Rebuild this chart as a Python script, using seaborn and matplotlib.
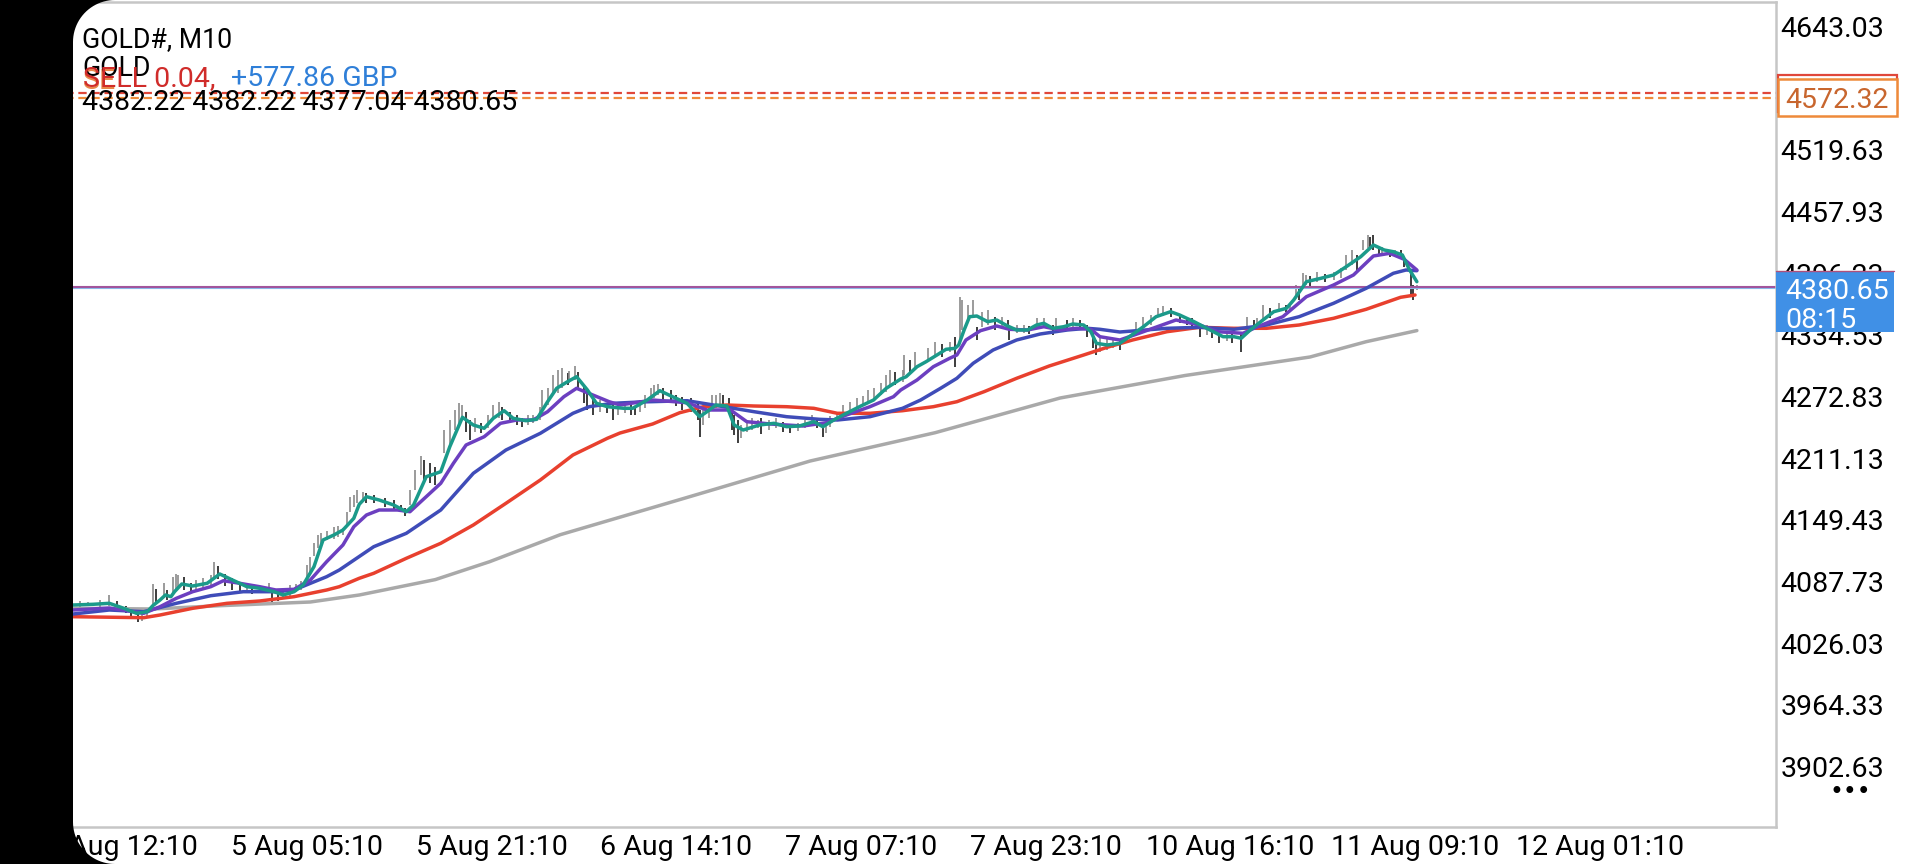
import numpy as np
import matplotlib
matplotlib.use("Agg")
import matplotlib.pyplot as plt
import seaborn as sns
from matplotlib.patches import Rectangle, Polygon
from matplotlib.transforms import Affine2D, blended_transform_factory, ScaledTranslation

# ---------------- data (bar index: 0 = "4 Aug 12:10", 102 bars per label step) -------------
tick_idx = [0, 102, 204, 306, 408, 510, 612, 714, 816]
tick_labels = ["4 Aug 12:10", "5 Aug 05:10", "5 Aug 21:10", "6 Aug 14:10", "7 Aug 07:10",
               "7 Aug 23:10", "10 Aug 16:10", "11 Aug 09:10", "12 Aug 01:10"]
price_ticks = [3902.63, 3964.33, 4026.03, 4087.73, 4149.43, 4211.13, 4272.83,
               4334.53, 4396.23, 4457.93, 4519.63, 4643.03]

teal_idx = [-27, -16, -7, 1, 8, 14, 17, 21, 24, 27, 29, 33, 39, 47, 54, 61, 69, 76, 84, 89, 95, 100,
            106, 111, 117, 122, 128, 131, 135, 142, 150, 157, 161, 168, 176, 181, 188, 194, 200, 205,
            211, 216, 223, 229, 235, 240, 246, 251, 257, 262, 268, 277, 282, 290, 297, 304, 312, 319,
            323, 328, 334, 338, 343, 352, 360, 367, 374, 382, 387, 393, 400, 408, 415, 422, 430, 433,
            439, 444, 450, 455, 460, 462, 465, 468, 472, 478, 483, 489, 494, 500, 505, 509, 514, 520,
            525, 531, 535, 538, 544, 551, 555, 564, 571, 579, 584, 592, 599, 608, 614, 618, 623, 630,
            636, 643, 647, 654, 662, 669, 676, 684, 691, 697, 702, 707, 711, 715]
teal_val = [4062.3, 4063.0, 4064.0, 4059.0, 4054.0, 4055.6, 4061.6, 4067.3, 4072.3, 4070.6, 4075.6,
            4083.3, 4081.3, 4084.0, 4093.3, 4087.3, 4080.6, 4079.0, 4075.6, 4072.3, 4075.6, 4082.3,
            4100.6, 4127.3, 4132.3, 4137.3, 4149.0, 4163.0, 4170.6, 4167.3, 4162.3, 4155.6, 4162.3,
            4190.6, 4195.6, 4220.6, 4250.0, 4242.3, 4239.0, 4249.0, 4256.6, 4249.0, 4246.6, 4248.0,
            4265.6, 4279.0, 4285.6, 4290.6, 4277.3, 4264.0, 4260.6, 4259.0, 4259.0, 4267.3, 4276.6,
            4270.6, 4264.0, 4250.6, 4255.6, 4262.3, 4261.3, 4242.3, 4237.3, 4242.3, 4244.0, 4240.6,
            4241.3, 4245.6, 4240.6, 4247.3, 4254.0, 4261.3, 4267.3, 4279.0, 4288.3, 4290.6, 4300.6,
            4305.6, 4312.3, 4318.0, 4319.0, 4322.3, 4337.3, 4350.6, 4351.3, 4345.6, 4347.3, 4341.3,
            4337.3, 4337.3, 4342.3, 4344.0, 4339.0, 4340.6, 4343.3, 4342.3, 4335.6, 4324.0, 4322.3,
            4324.0, 4329.0, 4340.6, 4350.6, 4355.6, 4352.3, 4345.6, 4339.0, 4330.6, 4330.6, 4329.0,
            4337.3, 4347.3, 4355.6, 4359.0, 4367.3, 4385.6, 4389.0, 4392.3, 4400.6, 4410.6, 4422.3,
            4417.3, 4415.6, 4412.3, 4397.3, 4385.6]

purple_idx = [-27, -7, 12, 21, 30, 39, 49, 56, 65, 76, 85, 95, 104, 113, 122, 128, 135, 142, 152, 159,
              166, 176, 183, 190, 200, 209, 218, 227, 235, 244, 251, 260, 269, 275, 293, 312, 323, 336,
              345, 358, 376, 389, 400, 413, 426, 430, 439, 448, 457, 461, 466, 474, 483, 490, 500, 509,
              518, 527, 535, 540, 551, 562, 582, 595, 605, 619, 627, 641, 654, 669, 680, 691, 700, 708, 715]
purple_val = [4057.3, 4059.3, 4054.0, 4060.6, 4069.0, 4075.6, 4080.6, 4086.6, 4084.0, 4080.6, 4077.3,
              4078.0, 4087.3, 4105.6, 4122.3, 4140.6, 4152.3, 4157.3, 4157.3, 4155.6, 4167.3, 4184.0,
              4204.0, 4222.3, 4230.6, 4244.0, 4247.3, 4247.3, 4255.6, 4270.6, 4279.0, 4272.3, 4265.6,
              4262.3, 4267.3, 4264.6, 4257.3, 4257.3, 4245.6, 4243.3, 4241.3, 4244.6, 4252.3, 4260.6,
              4270.6, 4277.3, 4287.3, 4300.6, 4309.0, 4312.3, 4327.3, 4336.6, 4341.3, 4338.0, 4337.3,
              4340.6, 4337.3, 4339.0, 4338.0, 4330.6, 4327.3, 4334.3, 4347.3, 4342.3, 4335.6, 4334.0,
              4340.6, 4350.6, 4370.6, 4382.3, 4392.3, 4411.3, 4414.0, 4408.0, 4397.3]

blue_idx = [-27, -7, 12, 30, 49, 67, 85, 95, 113, 120, 139, 157, 176, 194, 212, 231, 249, 258, 271, 286,
            312, 330, 349, 367, 385, 395, 413, 431, 441, 452, 461, 470, 481, 494, 507, 522, 533, 540,
            551, 577, 595, 614, 632, 650, 669, 687, 702, 709, 715]
blue_val = [4053.3, 4057.3, 4055.6, 4064.0, 4071.6, 4075.6, 4075.6, 4077.3, 4090.6, 4097.3, 4120.6,
            4134.0, 4157.3, 4194.0, 4217.3, 4234.0, 4254.0, 4260.6, 4264.0, 4265.3, 4266.6, 4261.3,
            4255.6, 4250.6, 4248.0, 4247.3, 4250.6, 4259.0, 4267.3, 4279.0, 4289.0, 4304.0, 4317.3,
            4327.3, 4333.3, 4337.3, 4339.0, 4338.0, 4335.3, 4339.0, 4340.0, 4338.0, 4342.3, 4350.6,
            4364.0, 4379.0, 4394.0, 4397.3, 4396.6]

red_idx = [-27, 12, 21, 39, 58, 76, 95, 113, 120, 131, 139, 157, 176, 194, 212, 231, 249, 268, 275, 293,
           308, 321, 334, 349, 367, 382, 395, 413, 431, 448, 461, 476, 494, 512, 531, 544, 558, 577,
           595, 614, 632, 650, 669, 687, 706, 714]
red_val = [4050.6, 4049.6, 4052.3, 4059.0, 4064.0, 4066.3, 4070.6, 4077.3, 4080.6, 4089.0, 4094.0,
           4109.0, 4124.0, 4142.3, 4164.0, 4187.3, 4212.3, 4229.0, 4234.3, 4243.3, 4254.6, 4260.6,
           4262.3, 4261.3, 4260.6, 4259.0, 4254.0, 4254.0, 4256.6, 4260.6, 4265.6, 4275.6, 4289.0,
           4301.3, 4312.3, 4320.0, 4327.3, 4335.6, 4340.0, 4339.0, 4339.0, 4342.3, 4349.0, 4358.0,
           4370.0, 4372.3]

gray_idx = [-27, 17, 54, 104, 131, 173, 203, 242, 311, 380, 449, 518, 587, 656, 687, 715]
gray_val = [4059.0, 4058.3, 4061.6, 4065.3, 4072.3, 4087.7, 4105.6, 4132.6, 4169.3, 4206.3, 4234.6,
            4269.3, 4291.8, 4310.3, 4325.6, 4336.7]

bar_idx = [-23, -19, -12, -7, -3, 2, 5, 9, 11, 14, 17, 19, 23, 25, 28, 30, 31, 34, 38, 41, 45, 49, 51,
           53, 57, 61, 65, 69, 72, 77, 81, 83, 86, 89, 93, 96, 99, 102, 104, 106, 108, 110, 113, 117,
           119, 122, 124, 126, 128, 130, 133, 135, 139, 145, 150, 154, 156, 159, 162, 165, 167, 170,
           173, 178, 181, 184, 186, 188, 190, 192, 195, 198, 202, 205, 208, 210, 214, 218, 221, 224,
           227, 231, 232, 235, 238, 241, 243, 246, 247, 250, 252, 255, 257, 260, 264, 268, 271, 274,
           278, 281, 283, 286, 289, 292, 294, 296, 299, 303, 306, 309, 314, 318, 319, 321, 324, 326,
           328, 330, 332, 335, 337, 338, 340, 342, 345, 348, 351, 353, 357, 361, 365, 369, 373, 377,
           381, 384, 387, 389, 391, 395, 398, 402, 406, 409, 412, 415, 419, 422, 424, 427, 431, 432,
           435, 438, 445, 449, 453, 457, 460, 463, 464, 467, 470, 472, 475, 478, 482, 486, 489, 490,
           494, 498, 501, 505, 509, 514, 516, 522, 525, 529, 533, 536, 538, 540, 544, 547, 551, 560,
           564, 568, 572, 575, 579, 584, 588, 591, 595, 599, 602, 606, 610, 613, 618, 621, 625, 627,
           630, 634, 639, 643, 645, 648, 650, 652, 654, 656, 660, 664, 669, 673, 676, 679, 682, 685,
           688, 689, 691, 694, 696, 700, 703, 706, 708, 710, 712, 713, 715]
bar_high = [4066.3, 4065.3, 4067.3, 4072.3, 4066.3, 4061.3, 4056.3, 4054.3, 4053.3, 4056.3, 4083.3,
            4078.3, 4084.3, 4077.3, 4090.3, 4093.3, 4092.3, 4090.3, 4084.3, 4087.3, 4089.3, 4092.3,
            4105.3, 4101.3, 4093.3, 4089.3, 4082.3, 4084.3, 4080.3, 4080.3, 4084.3, 4076.3, 4074.3,
            4077.3, 4082.3, 4083.3, 4086.3, 4102.3, 4110.3, 4124.3, 4132.3, 4134.3, 4136.3, 4140.3,
            4141.3, 4139.3, 4155.3, 4170.3, 4172.3, 4177.3, 4175.3, 4174.3, 4172.3, 4169.3, 4167.3,
            4162.3, 4159.3, 4177.3, 4197.3, 4211.3, 4207.3, 4204.3, 4200.3, 4237.3, 4247.3, 4257.3,
            4264.3, 4262.3, 4255.3, 4247.3, 4249.3, 4244.3, 4252.3, 4262.3, 4265.3, 4260.3, 4255.3,
            4252.3, 4249.3, 4252.3, 4252.3, 4260.3, 4277.3, 4279.3, 4292.3, 4297.3, 4299.3, 4294.3,
            4296.3, 4301.3, 4295.3, 4282.3, 4277.3, 4269.3, 4267.3, 4264.3, 4263.3, 4262.3, 4265.3,
            4263.3, 4261.3, 4267.3, 4272.3, 4279.3, 4282.3, 4283.3, 4279.3, 4277.3, 4272.3, 4270.3,
            4269.3, 4264.3, 4257.3, 4259.3, 4262.3, 4272.3, 4272.3, 4274.3, 4272.3, 4269.3, 4262.3,
            4252.3, 4247.3, 4242.3, 4247.3, 4249.3, 4247.3, 4249.3, 4247.3, 4249.3, 4245.3, 4242.3,
            4244.3, 4247.3, 4252.3, 4249.3, 4242.3, 4244.3, 4251.3, 4255.3, 4262.3, 4265.3, 4269.3,
            4271.3, 4277.3, 4279.3, 4284.3, 4292.3, 4297.3, 4295.3, 4297.3, 4312.3, 4307.3, 4315.3,
            4319.3, 4325.3, 4323.3, 4325.3, 4330.3, 4370.3, 4367.3, 4362.3, 4367.3, 4340.3, 4355.3,
            4357.3, 4350.3, 4350.3, 4347.3, 4340.3, 4342.3, 4342.3, 4341.3, 4349.3, 4349.3, 4342.3,
            4349.3, 4347.3, 4349.3, 4347.3, 4342.3, 4334.3, 4327.3, 4329.3, 4330.3, 4329.3, 4327.3,
            4345.3, 4350.3, 4352.3, 4359.3, 4361.3, 4359.3, 4352.3, 4350.3, 4349.3, 4340.3, 4342.3,
            4339.3, 4334.3, 4334.3, 4334.3, 4334.3, 4350.3, 4347.3, 4349.3, 4362.3, 4359.3, 4364.3,
            4362.3, 4364.3, 4382.3, 4380.3, 4394.3, 4392.3, 4391.3, 4395.3, 4393.3, 4395.3, 4399.3,
            4412.3, 4417.3, 4412.3, 4427.3, 4432.3, 4430.3, 4432.3, 4420.3, 4420.3, 4417.3, 4417.3,
            4417.3, 4410.3, 4405.3, 4397.3, 4382.3, 4382.22]
bar_low = [4060.3, 4061.3, 4060.3, 4061.3, 4058.3, 4054.3, 4050.3, 4045.3, 4046.3, 4049.3, 4060.3,
           4064.3, 4069.3, 4067.3, 4075.3, 4077.3, 4079.3, 4077.3, 4075.3, 4076.3, 4078.3, 4079.3,
           4090.3, 4088.3, 4081.3, 4077.3, 4076.3, 4075.3, 4073.3, 4075.3, 4075.3, 4065.3, 4066.3,
           4069.3, 4071.3, 4075.3, 4077.3, 4087.3, 4094.3, 4111.3, 4119.3, 4122.3, 4127.3, 4128.3,
           4130.3, 4132.3, 4142.3, 4155.3, 4160.3, 4164.3, 4167.3, 4164.3, 4164.3, 4160.3, 4158.3,
           4155.3, 4151.3, 4162.3, 4177.3, 4192.3, 4187.3, 4184.3, 4182.3, 4214.3, 4222.3, 4237.3,
           4242.3, 4247.3, 4235.3, 4227.3, 4235.3, 4234.3, 4239.3, 4247.3, 4249.3, 4247.3, 4244.3,
           4242.3, 4240.3, 4242.3, 4244.3, 4247.3, 4257.3, 4262.3, 4272.3, 4274.3, 4279.3, 4282.3,
           4284.3, 4287.3, 4279.3, 4264.3, 4257.3, 4252.3, 4255.3, 4254.3, 4247.3, 4252.3, 4254.3,
           4252.3, 4252.3, 4255.3, 4259.3, 4265.3, 4269.3, 4272.3, 4267.3, 4265.3, 4261.3, 4257.3,
           4255.3, 4247.3, 4230.3, 4242.3, 4249.3, 4259.3, 4259.3, 4262.3, 4260.3, 4259.3, 4237.3,
           4232.3, 4224.3, 4229.3, 4235.3, 4237.3, 4239.3, 4233.3, 4237.3, 4239.3, 4235.3, 4234.3,
           4236.3, 4239.3, 4242.3, 4239.3, 4230.3, 4234.3, 4240.3, 4247.3, 4249.3, 4255.3, 4259.3,
           4261.3, 4265.3, 4267.3, 4272.3, 4275.3, 4282.3, 4282.3, 4285.3, 4292.3, 4295.3, 4299.3,
           4307.3, 4312.3, 4310.3, 4315.3, 4300.3, 4327.3, 4337.3, 4347.3, 4349.3, 4327.3, 4340.3,
           4342.3, 4337.3, 4339.3, 4337.3, 4327.3, 4334.3, 4334.3, 4333.3, 4340.3, 4341.3, 4332.3,
           4340.3, 4337.3, 4339.3, 4337.3, 4330.3, 4319.3, 4312.3, 4315.3, 4317.3, 4319.3, 4317.3,
           4335.3, 4339.3, 4342.3, 4350.3, 4351.3, 4350.3, 4344.3, 4342.3, 4341.3, 4330.3, 4332.3,
           4329.3, 4324.3, 4326.3, 4324.3, 4315.3, 4340.3, 4337.3, 4340.3, 4347.3, 4349.3, 4355.3,
           4355.3, 4357.3, 4369.3, 4367.3, 4380.3, 4382.3, 4380.3, 4385.3, 4385.3, 4387.3, 4389.3,
           4397.3, 4402.3, 4394.3, 4417.3, 4419.3, 4420.3, 4417.3, 4412.3, 4412.3, 4410.3, 4410.3,
           4409.3, 4400.3, 4397.3, 4372.3, 4367.3, 4377.04]

symbol_title = "GOLD#, M10"
symbol_desc = "GOLD"
order_side = "SELL"
order_lots = 0.04
order_profit = "+577.86 GBP"
last_ohlc = [4382.22, 4382.22, 4377.04, 4380.65]
order_open_price = 4574.3     # red dashed line
order_stop_price = 4569.3     # orange dashed line
order_label_price = 4572.32   # value shown in the orange scale label
countdown = "08:15"

# ---------------- styling -------------------------------------------------------------------
sns.set_theme(style="white")
plt.rcParams['font.family'] = ['Roboto', 'DejaVu Sans']
plt.rcParams['lines.scale_dashes'] = False

W, H = 1920, 864
FS = 20.5
fig = plt.figure(figsize=(W / 100, H / 100), dpi=100, facecolor='white')
pix = Affine2D().scale(1 / W, -1 / H).translate(0, 1) + fig.transFigure

AX_R, AX_T, AX_B = 1776, 2, 827
ax = fig.add_axes([0, 1 - AX_B / H, AX_R / W, (AX_B - AX_T) / H])
ax.set_facecolor('white')

px_per_bar = 1.811
x_left = -122 / px_per_bar
x_right = x_left + AX_R / px_per_bar
price_top_px = 4667.3
ax.set_xlim(x_left, x_right)
ax.set_ylim(price_top_px - AX_B, price_top_px - AX_T)

# OHLC bar wicks
mids = (np.array(bar_high) + np.array(bar_low)) / 2
bar_cols = ['#8a8a8a' if (k == 0 or mids[k] >= mids[k - 1]) else '#1c1c1c' for k in range(len(mids))]
ax.vlines(bar_idx, bar_low, bar_high, colors=bar_cols, linewidth=1.2, zorder=1.5)

# moving averages
for xs, ys, col in [(gray_idx, gray_val, '#a9a9a9'),
                    (red_idx, red_val, '#e8402e'),
                    (blue_idx, blue_val, '#3f4cb8'),
                    (purple_idx, purple_val, '#6c3fc0'),
                    (teal_idx, teal_val, '#1b9a8a')]:
    sns.lineplot(x=xs, y=ys, ax=ax, color=col, linewidth=2.5, estimator=None, sort=False, zorder=2)

# horizontal price / order lines
last_close = last_ohlc[3]
ax.axhline(last_close, color='#a2559c', lw=1.5, zorder=1.8)
ax.axhline(last_close - 1.6, color='#8cbcec', lw=0.8, zorder=1.7)
ax.axhline(order_open_price, color='#e0473a', lw=1.6, dashes=(6.0, 3.4), zorder=1.8)
ax.axhline(order_stop_price, color='#ee8a3a', lw=1.6, dashes=(6.0, 3.4), zorder=1.8)

# axes frame
for side in ['top', 'right', 'bottom']:
    ax.spines[side].set_color('#c6c6c6')
    ax.spines[side].set_linewidth(1.8)
ax.spines['left'].set_visible(False)

ax.set_xticks(tick_idx)
ax.set_xticklabels(tick_labels)
ax.yaxis.tick_right()
ax.set_yticks(price_ticks)
ax.set_yticklabels([f"{v:.2f}" for v in price_ticks])
ax.tick_params(axis='x', length=3, width=1.2, color='#c6c6c6', pad=2, labelsize=FS, labelcolor='black')
ax.tick_params(axis='y', length=0, pad=3.2, labelsize=FS, labelcolor='black')
ax.set_xlabel('')
ax.set_ylabel('')
ax.grid(False)
down = ScaledTranslation(0, -2 / 100, fig.dpi_scale_trans)
for lab in ax.get_yticklabels():
    lab.set_transform(lab.get_transform() + down)

# right-side price labels
trans = blended_transform_factory(ax.transAxes, ax.transData)
bx0 = 1778 / AX_R
bw = (1897 - 1778) / AX_R
ax.add_patch(Rectangle((bx0, order_label_price - 17), bw, 37, transform=trans, fc='white',
                       ec='#e0473a', lw=1.6, clip_on=False, zorder=5))
ax.add_patch(Rectangle((bx0, order_label_price - 21), bw, 37, transform=trans, fc='white',
                       ec='#ee8a3a', lw=1.8, clip_on=False, zorder=5.1))
ax.text(1785 / AX_R, order_label_price - 3, f"{order_label_price:.2f}", transform=trans,
        color='#c8662e', fontsize=FS, ha='left', va='center_baseline', clip_on=False, zorder=6)

ax.add_patch(Rectangle((1.0, last_close - 45.4), (1894 - 1776) / AX_R, 61, transform=trans,
                       fc='#4090e6', ec='none', clip_on=False, zorder=5))
ax.plot([1.0, 1894 / AX_R], [last_close + 15.4] * 2, transform=trans, color='#b0507a', lw=1.0,
        clip_on=False, zorder=5.2)
ax.text(1785 / AX_R, last_close - 2, f"{last_close:.2f}", transform=trans, color='white',
        fontsize=FS, ha='left', va='center_baseline', clip_on=False, zorder=6)
ax.text(1785 / AX_R, last_close - 30.5, countdown, transform=trans, color='white',
        fontsize=FS, ha='left', va='center_baseline', clip_on=False, zorder=6)

# top-left info texts
fig.text(82, 47, symbol_title, transform=pix, fontsize=19.2, color='black', va='baseline')
fig.text(83, 89, order_side[:2], transform=pix, fontsize=20.5, color='#e8874a', va='baseline')
fig.text(82, 75.5, symbol_desc, transform=pix, fontsize=19.2, color='black', va='baseline')
fig.text(83, 86, f"{order_side} {order_lots:.2f},", transform=pix, fontsize=20.5, color='#d02c2a',
         va='baseline')
fig.text(231, 86, order_profit, transform=pix, fontsize=20.5, color='#2f7fd8', va='baseline')
fig.text(82, 110.5, " ".join(f"{v:.2f}" for v in last_ohlc), transform=pix, fontsize=20.5,
         color='black', va='baseline')

fig.text(1850, 792, "\u2022\u2022\u2022", transform=pix, fontsize=17, color='black',
         ha='center', va='center', family=['DejaVu Sans'])

# black screen edge with rounded corners on the left
EDGE, R = 73, 42
fig.add_artist(Rectangle((0, 0), EDGE, H, transform=pix, fc='black', ec='none', zorder=20))
t = np.linspace(0, np.pi / 2, 24)
top_corner = [(EDGE, 0)] + [(EDGE + R - R * np.cos(a), R - R * np.sin(a)) for a in t]
bot_corner = [(EDGE, H)] + [(EDGE + R - R * np.cos(a), H - R + R * np.sin(a)) for a in t]
for pts in (top_corner, bot_corner):
    fig.add_artist(Polygon(pts, closed=True, transform=pix, fc='black', ec='none', zorder=20))

fig.savefig("out.png", dpi=100, facecolor='white')
